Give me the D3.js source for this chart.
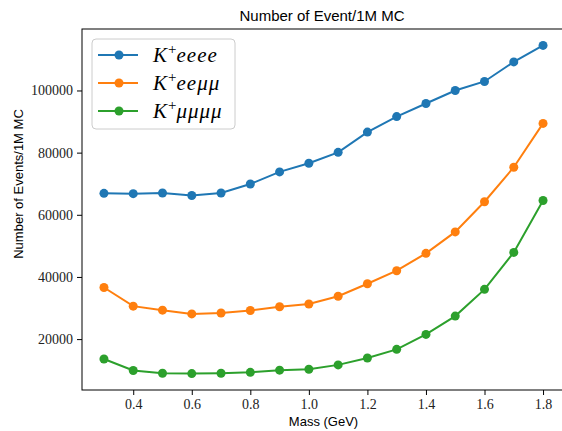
<!DOCTYPE html>
<html>
<head>
<meta charset="utf-8">
<script src="https://cdn.jsdelivr.net/npm/d3@7"></script>
<style>
  body { margin: 0; background: #fff; }
  svg { display: block; }
</style>
</head>
<body>
<div id="chart"></div>
<script>
// mass points (GeV)
var masses = [0.3, 0.4, 0.5, 0.6, 0.7, 0.8, 0.9, 1.0, 1.1, 1.2, 1.3, 1.4, 1.5, 1.6, 1.7, 1.8];
var eeee = [66900, 66800, 67000, 66200, 67000, 69900, 73800, 76600, 80100, 86600, 91600, 95800, 100000, 102900, 109200, 114500];
var eemumu = [36600, 30600, 29300, 28100, 28400, 29200, 30400, 31300, 33800, 37800, 42000, 47600, 54500, 64200, 75300, 89400];
var mumumumu = [13600, 9900, 9000, 8900, 9000, 9300, 10000, 10300, 11700, 13900, 16700, 21500, 27400, 36000, 47900, 64600];
var seriesNames = ["eeee", "ee\u03bc\u03bc", "\u03bc\u03bc\u03bc\u03bc"];
var colors = ["#1f77b4", "#ff7f0e", "#2ca02c"];
var xTicks = [0.4, 0.6, 0.8, 1.0, 1.2, 1.4, 1.6, 1.8];
var yTicks = [20000, 40000, 60000, 80000, 100000];

var allSeries = [eeee, eemumu, mumumumu];

var width = 562, height = 431;
var margin = {top: 29, right: -3, bottom: 41, left: 82};

var svg = d3.select('#chart').append('svg')
    .attr('width', width)
    .attr('height', height);

// matplotlib style 5% padding
var xMin = d3.min(masses), xMax = d3.max(masses);
var xPad = (xMax - xMin) * 0.05;
var allVals = d3.merge(allSeries);
var yMin = d3.min(allVals), yMax = d3.max(allVals);
var yPad = (yMax - yMin) * 0.05;

var x = d3.scaleLinear()
    .domain([xMin - xPad, xMax + xPad])
    .range([margin.left, width - margin.right]);
var y = d3.scaleLinear()
    .domain([yMin - yPad, yMax + yPad])
    .range([height - margin.bottom, margin.top]);

var tickFont = '"Liberation Serif", "DejaVu Serif", serif';
var sansFont = '"Liberation Sans", Arial, sans-serif';

// axes
var xAxis = svg.append('g')
    .attr('transform', 'translate(0,' + (height - margin.bottom) + ')')
    .call(d3.axisBottom(x).tickValues(xTicks).tickFormat(d3.format('.1f')).tickSize(5).tickPadding(4));
var yAxis = svg.append('g')
    .attr('transform', 'translate(' + margin.left + ',0)')
    .call(d3.axisLeft(y).tickValues(yTicks).tickFormat(d3.format('d')).tickSize(5).tickPadding(4));

[xAxis, yAxis].forEach(function (g) {
  g.select('.domain').remove();
  g.selectAll('.tick line').attr('stroke', '#000').attr('stroke-width', 1);
  g.selectAll('.tick text')
    .attr('fill', '#222')
    .style('font-family', tickFont)
    .style('font-size', '14px');
});

// lines + markers
var line = d3.line()
    .x(function (d) { return x(d[0]); })
    .y(function (d) { return y(d[1]); });

allSeries.forEach(function (vals, i) {
  var pts = masses.map(function (m, j) { return [m, vals[j]]; });
  svg.append('path')
    .datum(pts)
    .attr('fill', 'none')
    .attr('stroke', colors[i])
    .attr('stroke-width', 2)
    .attr('d', line);
  svg.selectAll('.pt' + i).data(pts)
    .enter().append('circle')
    .attr('class', 'pt' + i)
    .attr('cx', function (d) { return x(d[0]); })
    .attr('cy', function (d) { return y(d[1]); })
    .attr('r', 4.5)
    .attr('fill', colors[i]);
});

// frame
svg.append('rect')
    .attr('x', margin.left)
    .attr('y', margin.top)
    .attr('width', width - margin.right - margin.left)
    .attr('height', height - margin.bottom - margin.top)
    .attr('fill', 'none')
    .attr('stroke', '#000')
    .attr('stroke-width', 1);

// title and labels
svg.append('text')
    .attr('x', 322)
    .attr('y', 21)
    .attr('text-anchor', 'middle')
    .style('font-family', sansFont)
    .style('font-size', '15px')
    .text('Number of Event/1M MC');

svg.append('text')
    .attr('x', (margin.left + width - margin.right) / 2)
    .attr('y', 426)
    .attr('text-anchor', 'middle')
    .style('font-family', sansFont)
    .style('font-size', '13px')
    .text('Mass (GeV)');

svg.append('text')
    .attr('transform', 'translate(23,' + 184 + ') rotate(-90)')
    .attr('text-anchor', 'middle')
    .style('font-family', sansFont)
    .style('font-size', '13px')
    .text('Number of Events/1M MC');

// legend
var legend = svg.append('g').attr('transform', 'translate(92,39)');
legend.append('rect')
    .attr('width', 143)
    .attr('height', 90)
    .attr('rx', 4)
    .attr('fill', '#fff')
    .attr('fill-opacity', 0.8)
    .attr('stroke', '#ccc')
    .attr('stroke-width', 1);

seriesNames.forEach(function (name, i) {
  var row = legend.append('g').attr('transform', 'translate(0,' + (16 + i * 28) + ')');
  row.append('line')
    .attr('x1', 6).attr('x2', 46)
    .attr('stroke', colors[i]).attr('stroke-width', 2);
  row.append('circle')
    .attr('cx', 27).attr('r', 4.5).attr('fill', colors[i]);
  var t = row.append('text')
    .attr('x', 61)
    .attr('y', 7)
    .style('font-family', tickFont)
    .style('font-size', '21px');
  t.append('tspan').style('font-style', 'italic').text('K');
  t.append('tspan').attr('dx', 1).attr('dy', -8).style('font-size', '15px').text('+');
  t.append('tspan').attr('dy', 8).attr('letter-spacing', 1).style('font-style', 'italic').text(name);
});
</script>
</body>
</html>
